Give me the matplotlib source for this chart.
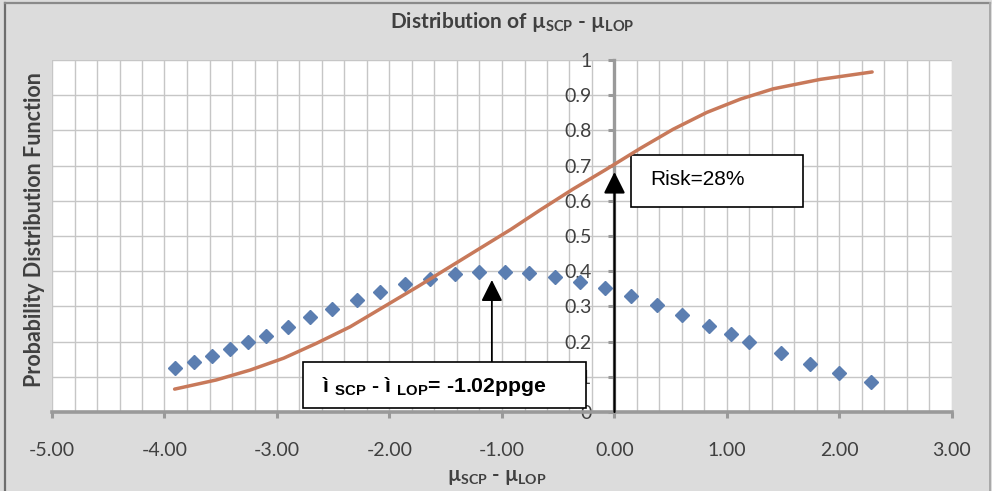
import matplotlib
matplotlib.use("Agg")
import matplotlib.pyplot as plt
from matplotlib.patches import Rectangle
from matplotlib.lines import Line2D
import numpy as np

# ---------------- data ----------------
pdf_x = [-3.91, -3.74, -3.58, -3.42, -3.26, -3.10, -2.90, -2.71, -2.51, -2.29,
         -2.08, -1.86, -1.64, -1.42, -1.20, -0.97, -0.76, -0.53, -0.31, -0.08,
         0.15, 0.38, 0.60, 0.84, 1.04, 1.20, 1.48, 1.74, 2.00, 2.28]
pdf_y = [0.124, 0.141, 0.159, 0.178, 0.198, 0.217, 0.242, 0.269, 0.293, 0.318,
         0.342, 0.363, 0.378, 0.391, 0.398, 0.399, 0.394, 0.384, 0.370, 0.351,
         0.330, 0.304, 0.276, 0.244, 0.221, 0.200, 0.168, 0.136, 0.110, 0.086]

cdf_x = [-3.91, -3.54, -3.24, -2.94, -2.65, -2.35, -2.05, -1.75, -1.46, -1.17,
         -0.92, -0.66, -0.37, -0.07, 0.23, 0.52, 0.82, 1.12, 1.41, 1.83, 2.29]
cdf_y = [0.065, 0.091, 0.119, 0.153, 0.195, 0.242, 0.299, 0.356, 0.413, 0.470,
         0.519, 0.574, 0.633, 0.690, 0.749, 0.803, 0.851, 0.889, 0.918, 0.945, 0.966]

x_ticks = [-5, -4, -3, -2, -1, 0, 1, 2, 3]
x_tick_labels = ["-5.00", "-4.00", "-3.00", "-2.00", "-1.00", "0.00", "1.00", "2.00", "3.00"]
y_ticks = [0, 0.1, 0.2, 0.3, 0.4, 0.5, 0.6, 0.7, 0.8, 0.9, 1]
y_tick_labels = ["0", "0.1", "0.2", "0.3", "0.4", "0.5", "0.6", "0.7", "0.8", "0.9", "1"]

mean_diff = -1.09      # arrow position for mean annotation
risk_x = 0.0
risk_tip = 0.682
mean_tip = 0.375
mean_label = r"ì $_{\mathbf{SCP}}$ - ì $_{\mathbf{LOP}}$= -1.02ppge"
risk_label = "Risk=28%"
title = r"Distribution of µ$_{\mathrm{SCP}}$ - µ$_{\mathrm{LOP}}$"
xlabel = r"µ$_{\mathrm{SCP}}$ - µ$_{\mathrm{LOP}}$"
ylabel = "Probability Distribution Function"

# ---------------- style ----------------
plt.rcParams['mathtext.fontset'] = 'custom'
plt.rcParams['mathtext.rm'] = 'Lato:bold'
plt.rcParams['mathtext.bf'] = 'Liberation Sans:bold'
plt.rcParams['mathtext.it'] = 'Lato:bold'

BG = "#dcdcdc"
GRID = "#c6c6c6"
AXC = "#9a9a9a"
TXT = "#404040"
BLUE = "#5b7eb1"
ORANGE = "#c8795a"

fig = plt.figure(figsize=(9.92, 4.91), dpi=100, facecolor=BG)
ax = fig.add_axes([52/992, 1-412/491, 900/992, 352/491])
ax.set_facecolor("white")
ax.set_xlim(-5, 3)
ax.set_ylim(0, 1)

# grid
ax.set_xticks(x_ticks)
ax.set_xticks(np.arange(-5, 3.01, 0.2), minor=True)
ax.set_yticks(y_ticks)
ax.grid(which='both', axis='x', color=GRID, lw=1.0, zorder=0)
ax.grid(which='major', axis='y', color=GRID, lw=1.0, zorder=0)
ax.set_axisbelow(True)

for s in ['top', 'right']:
    ax.spines[s].set_visible(False)
ax.spines['left'].set_position(('data', 0))
ax.spines['left'].set_color(AXC)
ax.spines['left'].set_linewidth(2.4)
ax.spines['bottom'].set_color(AXC)
ax.spines['bottom'].set_linewidth(2.6)

ax.set_xticklabels(x_tick_labels, fontsize=14, color=TXT, family=['Lato', 'DejaVu Sans'])
ax.set_yticklabels(y_tick_labels, fontsize=14, color=TXT, family=['Lato', 'DejaVu Sans'])
ax.tick_params(axis='x', which='major', direction='out', length=4.5, width=2.2, color=AXC, pad=17)
ax.tick_params(axis='x', which='minor', length=0)
ax.tick_params(axis='y', which='major', direction='out', length=4.5, width=2.2, color=AXC, pad=12)

# data
ax.plot(cdf_x, cdf_y, color=ORANGE, lw=2.5, solid_capstyle='round',
        solid_joinstyle='round', zorder=6)
ax.plot(pdf_x, pdf_y, linestyle='none', marker='D', ms=7.6, color=BLUE, mec=BLUE, zorder=4)

# arrows
ax.annotate("", xy=(risk_x, risk_tip), xytext=(risk_x, 0.0),
            arrowprops=dict(arrowstyle="-|>,head_length=1.3,head_width=0.65",
                            mutation_scale=10, color="black", lw=1.6,
                            shrinkA=0, shrinkB=0), zorder=5)
ax.annotate("", xy=(mean_diff, mean_tip), xytext=(mean_diff, 0.142),
            arrowprops=dict(arrowstyle="-|>,head_length=1.3,head_width=0.65",
                            mutation_scale=10, color="black", lw=1.3,
                            shrinkA=0, shrinkB=0), zorder=5)

# boxes
ax.add_patch(Rectangle((-2.769, 0.011), 2.516, 0.131, facecolor='white',
                       edgecolor='black', lw=1.2, zorder=5, clip_on=False))
ax.text(-2.60, 0.057, mean_label, fontsize=15.3, fontweight='bold',
        family=['Liberation Sans', 'DejaVu Sans'], color='black',
        va='baseline', ha='left', zorder=7)
ax.add_patch(Rectangle((0.147, 0.582), 1.529, 0.148, facecolor='white',
                       edgecolor='black', lw=1.2, zorder=5, clip_on=False))
ax.text(0.316, 0.645, risk_label, fontsize=15,
        family=['Liberation Sans', 'DejaVu Sans'], color='black',
        va='baseline', ha='left', zorder=7)

# labels
fig.text(512/992, 1-22/491, title, fontsize=15, fontweight='bold', color=TXT,
         family=['Lato', 'DejaVu Sans'], ha='center', va='center')
fig.text(497/992, 1-477/491, xlabel, fontsize=14.5, fontweight='bold', color=TXT,
         family=['Lato', 'DejaVu Sans'], ha='center', va='center')
fig.text(35/992, 1-230/491, ylabel, fontsize=15.5, fontweight='bold', color=TXT,
         family=['Lato', 'DejaVu Sans'], ha='center', va='center', rotation=90)

# outer frame
fig.add_artist(Line2D([5/992, 5/992], [0, 1-3/491], transform=fig.transFigure, color="#6e6e6e", lw=1.6))
fig.add_artist(Line2D([5/992, 990/992], [1-3/491, 1-3/491], transform=fig.transFigure, color="#8a8a8a", lw=1.6))
fig.add_artist(Line2D([990/992, 990/992], [0, 1-3/491], transform=fig.transFigure, color="#a8a8a8", lw=1.4))

fig.savefig("out.png", dpi=100, facecolor=BG)
